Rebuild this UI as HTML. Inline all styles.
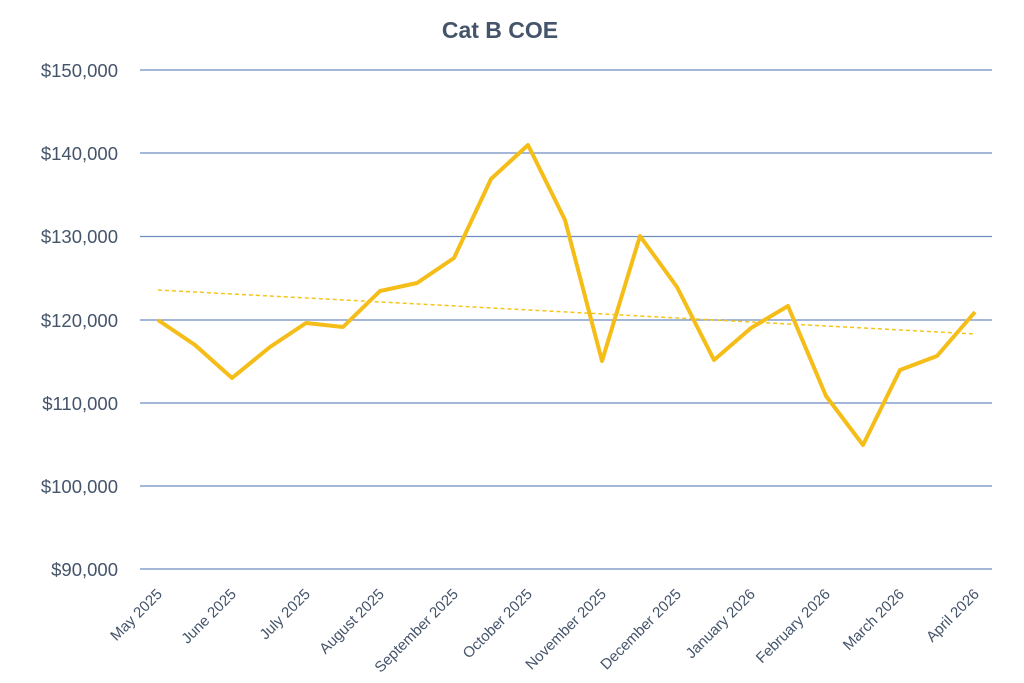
<!DOCTYPE html>
<html><head><meta charset="utf-8"><style>
html,body{margin:0;padding:0;background:#fff;}
svg{display:block;font-family:"Liberation Sans",sans-serif;}
</style></head><body>
<svg width="1024" height="683" viewBox="0 0 1024 683" xmlns="http://www.w3.org/2000/svg">
<rect width="1024" height="683" fill="#fff"/>
<text x="500" y="38" text-anchor="middle" font-size="23" font-weight="bold" fill="#44546a">Cat B COE</text>
<g stroke="#6d8cc0" stroke-width="1.3">
<line x1="140" y1="70" x2="992" y2="70"/>
<line x1="140" y1="153" x2="992" y2="153"/>
<line x1="140" y1="236.5" x2="992" y2="236.5"/>
<line x1="140" y1="320" x2="992" y2="320"/>
<line x1="140" y1="403" x2="992" y2="403"/>
<line x1="140" y1="486" x2="992" y2="486"/>
<line x1="140" y1="569" x2="992" y2="569"/>
</g>
<g font-size="18.5" fill="#44546a" text-anchor="end">
<text x="118" y="77">$150,000</text>
<text x="118" y="160">$140,000</text>
<text x="118" y="243">$130,000</text>
<text x="118" y="327">$120,000</text>
<text x="118" y="410">$110,000</text>
<text x="118" y="493">$100,000</text>
<text x="118" y="576">$90,000</text>
</g>
<line x1="158" y1="290" x2="975" y2="334" stroke="#f5c518" stroke-width="1.5" stroke-dasharray="4,3"/>
<polyline fill="none" stroke="#f5bd17" stroke-width="4" stroke-linejoin="round" points="158,320 195,345 232,378 270,347 306,323 343,327 380,291 417,283 454,258 491,179 528,145 565,220 602,361 640,236 677,287 714,360 751,328 788,306 826,396 863,445 900,370 937,356 975,312"/>
<g font-size="15" fill="#44546a" text-anchor="end">
<text transform="translate(163,595) rotate(-45)">May 2025</text>
<text transform="translate(237,595) rotate(-45)">June 2025</text>
<text transform="translate(311,595) rotate(-45)">July 2025</text>
<text transform="translate(385,595) rotate(-45)">August 2025</text>
<text transform="translate(459,595) rotate(-45)">September 2025</text>
<text transform="translate(533,595) rotate(-45)">October 2025</text>
<text transform="translate(607,595) rotate(-45)">November 2025</text>
<text transform="translate(682,595) rotate(-45)">December 2025</text>
<text transform="translate(756,595) rotate(-45)">January 2026</text>
<text transform="translate(831,595) rotate(-45)">February 2026</text>
<text transform="translate(905,595) rotate(-45)">March 2026</text>
<text transform="translate(980,595) rotate(-45)">April 2026</text>
</g>
</svg>
</body></html>
